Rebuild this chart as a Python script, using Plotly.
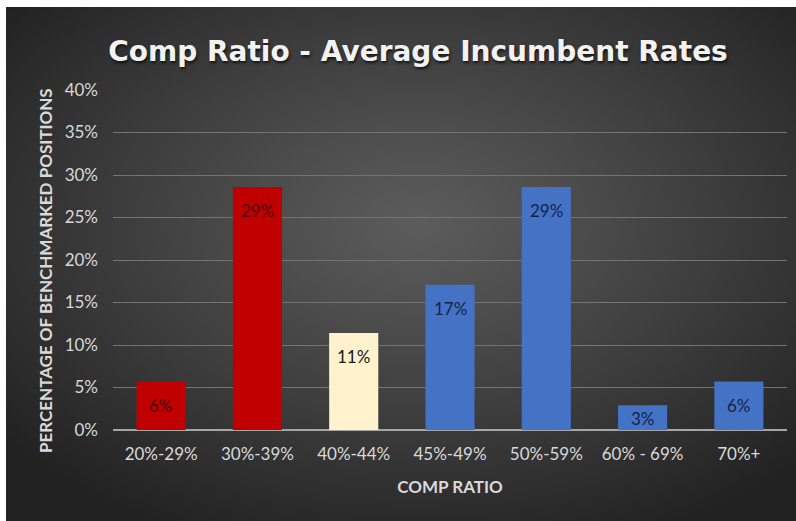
import base64, struct, zlib
import numpy as np
import plotly.graph_objects as go

categories = ["20%-29%", "30%-39%", "40%-44%", "45%-49%", "50%-59%", "60% - 69%", "70%+"]
values = [5.7, 28.6, 11.4, 17.1, 28.6, 2.9, 5.7]
labels = ["6%", "29%", "11%", "17%", "29%", "3%", "6%"]
bar_colors = ["#C00000", "#C00000", "#FFF2CC", "#4472C4", "#4472C4", "#4472C4", "#4472C4"]
label_colors = ["#4a0000", "#4a0000", "#1a1a1a", "#14234a", "#14234a", "#14234a", "#14234a"]
y_ticks = [0, 5, 10, 15, 20, 25, 30, 35, 40]
y_ticktext = [f"{v}%" for v in y_ticks]

W, H = 796, 521
ML, MR, MT, MB = 113, 9, 90, 91
PW, PH = W - ML - MR, H - MT - MB
BG_X0, BG_Y0 = 6, 7


def make_png(w, h):
    ys, xs = np.mgrid[0:h, 0:w]
    cx, cy = w * 0.52, h * 0.42
    d = np.sqrt(((xs - cx) / (w * 0.5)) ** 2 + ((ys - cy) / (h * 0.5)) ** 2) / 1.35
    d = np.clip(d, 0, 1)
    c0, c1 = 92.0, 34.0
    v = (c0 + (c1 - c0) * d ** 1.1).astype(np.uint8)
    img = np.stack([v, v, v], axis=-1)
    raw = b"".join(b"\x00" + img[r].tobytes() for r in range(h))

    def chunk(t, data):
        c = struct.pack(">I", len(data)) + t + data
        return c + struct.pack(">I", zlib.crc32(t + data) & 0xFFFFFFFF)

    png = b"\x89PNG\r\n\x1a\n"
    png += chunk(b"IHDR", struct.pack(">IIBBBBB", w, h, 8, 2, 0, 0, 0))
    png += chunk(b"IDAT", zlib.compress(raw, 9))
    png += chunk(b"IEND", b"")
    return "data:image/png;base64," + base64.b64encode(png).decode()


bg_src = make_png(395, 257)

fig = go.Figure()
fig.add_trace(go.Bar(
    x=categories, y=values,
    marker=dict(color=bar_colors, line=dict(width=0)),
    hoverinfo="skip",
))

for c, v, t, col in zip(categories, values, labels, label_colors):
    fig.add_annotation(
        x=c, y=v, text=t, showarrow=False, yanchor="top",
        yshift=-11 if v > 4 else -1,
        font=dict(family="Lato", size=17, color=col),
    )

# y-axis title as a rotated annotation (positioned like the reference)
fig.add_annotation(
    text="<b>PERCENTAGE OF BENCHMARKED POSITIONS</b>",
    xref="paper", yref="paper",
    x=(45 - ML) / PW, y=(H - MB - 271) / PH,
    xanchor="center", yanchor="middle", textangle=-90, showarrow=False,
    font=dict(family="Lato", size=17, color="#d9d9d9"),
)

fig.update_layout(
    width=W, height=H,
    margin=dict(l=ML, r=MR, t=MT, b=MB),
    paper_bgcolor="white",
    plot_bgcolor="rgba(0,0,0,0)",
    bargap=0.49,
    showlegend=False,
    font=dict(family="Lato", color="#d9d9d9"),
    title=dict(
        text="<b>Comp Ratio - Average Incumbent Rates</b>",
        x=418 / W, xref="container", xanchor="center",
        y=1 - 51 / H, yref="container", yanchor="middle",
        font=dict(family="DejaVu Sans", size=28, color="#f2f2f2",
                  shadow="1px 2px 3px rgba(0,0,0,0.7)"),
    ),
    xaxis=dict(
        title=dict(text="<b>COMP RATIO</b>", font=dict(size=17, color="#d9d9d9"), standoff=18),
        tickfont=dict(size=17, color="#d9d9d9"),
        showgrid=False, ticks="", ticklabelstandoff=12,
        showline=False,
    ),
    yaxis=dict(
        range=[0, 40],
        tickvals=y_ticks, ticktext=y_ticktext,
        tickfont=dict(size=17, color="#d9d9d9"),
        showgrid=True, gridcolor="#737373", gridwidth=1,
        zeroline=True, zerolinecolor="#a6a6a6", zerolinewidth=2,
        ticks="", ticklabelstandoff=14,
    ),
    images=[dict(
        source=bg_src, xref="paper", yref="paper",
        x=(BG_X0 - ML) / PW, y=(H - MB - BG_Y0) / PH,
        sizex=(W - BG_X0) / PW, sizey=(H - BG_Y0) / PH,
        xanchor="left", yanchor="top", sizing="stretch", layer="below",
    )],
)

fig.write_html("out.html")
